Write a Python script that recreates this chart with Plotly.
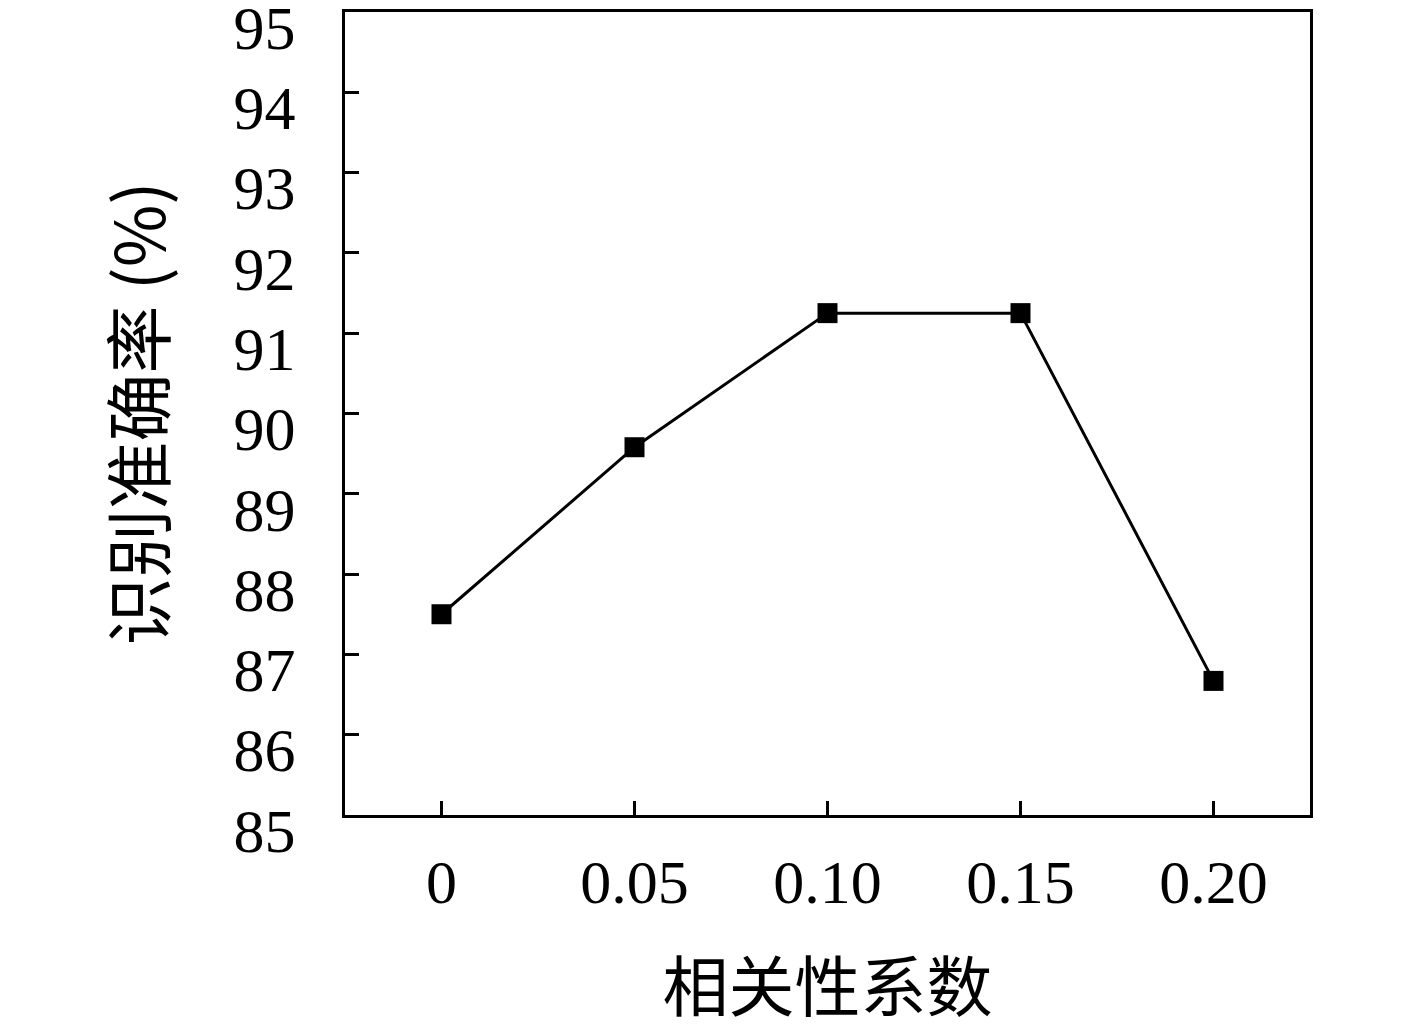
import plotly.graph_objects as go

coef_labels = ["0", "0.05", "0.10", "0.15", "0.20"]
accuracy = [87.5, 89.58, 91.25, 91.25, 86.67]
y_ticks = list(range(85, 96))

serif = "Liberation Serif, DejaVu Serif, serif"
cjk = "Noto Sans CJK SC, Liberation Serif, serif"

fig = go.Figure()
fig.add_trace(
    go.Scatter(
        x=coef_labels,
        y=accuracy,
        mode="lines+markers",
        line=dict(color="black", width=3),
        marker=dict(symbol="square", size=20, color="black"),
        showlegend=False,
    )
)

# page body adds 8px around the plot div, so margins are shifted to compensate
fig.update_layout(
    width=1409,
    height=1022,
    margin=dict(l=337, r=107, t=4, b=215),
    plot_bgcolor="white",
    paper_bgcolor="white",
    xaxis=dict(
        type="category",
        range=[-0.5, 4.5],
        ticks="inside",
        ticklen=14,
        tickwidth=3,
        tickcolor="black",
        showline=True,
        linewidth=3,
        linecolor="black",
        mirror=True,
        showgrid=False,
        zeroline=False,
        automargin=False,
        tickfont=dict(family=serif, size=62, color="black"),
        ticklabelstandoff=11,
        title=dict(text="相关性系数", font=dict(family=cjk, size=66, color="black"), standoff=69),
    ),
    yaxis=dict(
        range=[85, 95],
        tickvals=y_ticks,
        ticks="inside",
        ticklen=14,
        tickwidth=3,
        tickcolor="black",
        showline=True,
        linewidth=3,
        linecolor="black",
        mirror=True,
        showgrid=False,
        zeroline=False,
        automargin=False,
        ticklabeloverflow="allow",
        ticklabelshift=15,  # nudge labels down so the top one stays on the page
        tickfont=dict(family=serif, size=62, color="black"),
        ticklabelstandoff=34,
        title=dict(text="识别准确率 (%)", font=dict(family=cjk, size=68, color="black"), standoff=46),
    ),
)

fig.write_html("out.html")
